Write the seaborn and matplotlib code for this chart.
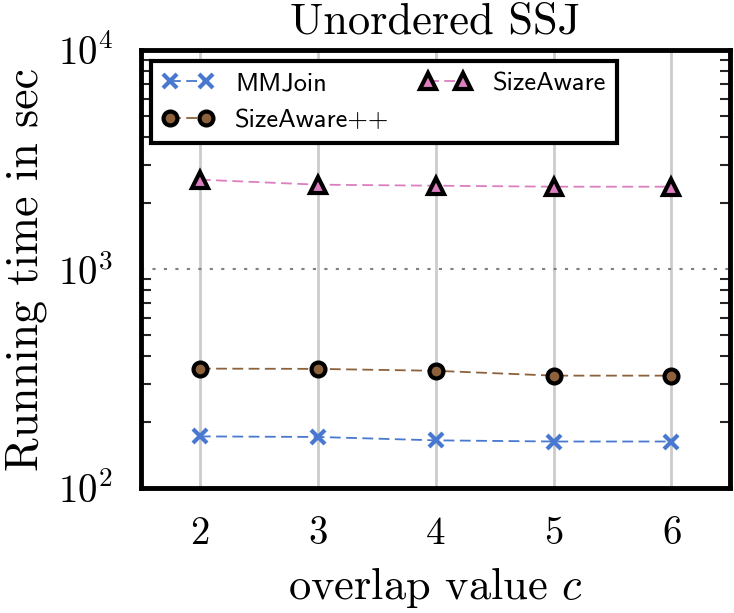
import numpy as np
import pandas as pd
import matplotlib
matplotlib.use("Agg")
import matplotlib.pyplot as plt
import seaborn as sns
from matplotlib.ticker import LogLocator, NullFormatter

# data
overlap_c = [2, 3, 4, 5, 6]
mmjoin = [172, 171, 165, 163, 163]
sizeaware_pp = [351, 350, 343, 326, 326]
sizeaware = [2563, 2431, 2405, 2380, 2380]

sns.set_theme(style="white")
plt.rcParams["font.family"] = ["cmr10", "DejaVu Serif"]
plt.rcParams["mathtext.fontset"] = "cm"
plt.rcParams["axes.formatter.use_mathtext"] = True
plt.rcParams["text.color"] = "black"
plt.rcParams["axes.labelcolor"] = "black"

df = pd.DataFrame({
    "c": overlap_c * 3,
    "time": mmjoin + sizeaware_pp + sizeaware,
    "algo": ["MMJoin"] * 5 + ["SizeAware++"] * 5 + ["SizeAware"] * 5,
})

fig = plt.figure(figsize=(7.34, 6.13), dpi=100)
ax = fig.add_axes([0.192, 0.204, 0.803, 0.714])

styles = {
    "MMJoin": dict(color="#4878d0", marker="x", markersize=10, markeredgecolor="#4878d0",
                   markeredgewidth=3),
    "SizeAware++": dict(color="#8c613c", marker="o", markersize=10, markeredgecolor="black",
                        markeredgewidth=3),
    "SizeAware": dict(color="#dc7ec0", marker="^", markersize=11, markeredgecolor="black",
                      markeredgewidth=3),
}

for name in ["MMJoin", "SizeAware++", "SizeAware"]:
    sub = df[df["algo"] == name]
    sns.lineplot(data=sub, x="c", y="time", ax=ax, label=name,
                 linestyle=(0, (6, 3)), linewidth=1.3, **styles[name])

ax.set_yscale("log")
ax.set_ylim(100, 10000)
ax.set_xlim(1.5, 6.5)
ax.set_xticks(overlap_c)
ax.yaxis.set_minor_locator(LogLocator(base=10, subs=np.arange(2, 10)))
ax.yaxis.set_minor_formatter(NullFormatter())

ax.grid(axis="x", color="#cccccc", linewidth=2)
ax.grid(axis="y", which="major", color="gray", linestyle=(0, (1.5, 4)), linewidth=1.5)
ax.set_axisbelow(True)

for sp in ax.spines.values():
    sp.set_visible(True)
    sp.set_color("black")
    sp.set_linewidth(3.5)

ax.tick_params(axis="both", which="major", direction="out", length=10, width=1.5,
               labelsize=28, colors="black", pad=10)
ax.tick_params(axis="y", which="minor", direction="in", length=7, width=1.5,
               left=True, right=True)
ax.tick_params(axis="y", which="major", right=False)

ax.set_xlabel("overlap value $c$", fontsize=32, labelpad=10)
ax.set_ylabel("Running time in sec", fontsize=33, labelpad=8)
ax.set_title("Unordered SSJ", fontsize=32, pad=12)

leg = ax.legend(loc="upper left", ncol=2, numpoints=2, frameon=True, fancybox=False,
                framealpha=1, prop={"family": "cmss10", "size": 19}, borderaxespad=0.4,
                columnspacing=1.15, handlelength=1.95, handletextpad=0.8,
                labelspacing=0.5, borderpad=0.42)
leg.get_frame().set_edgecolor("black")
leg.get_frame().set_linewidth(3)

fig.savefig("out.png", dpi=100)
